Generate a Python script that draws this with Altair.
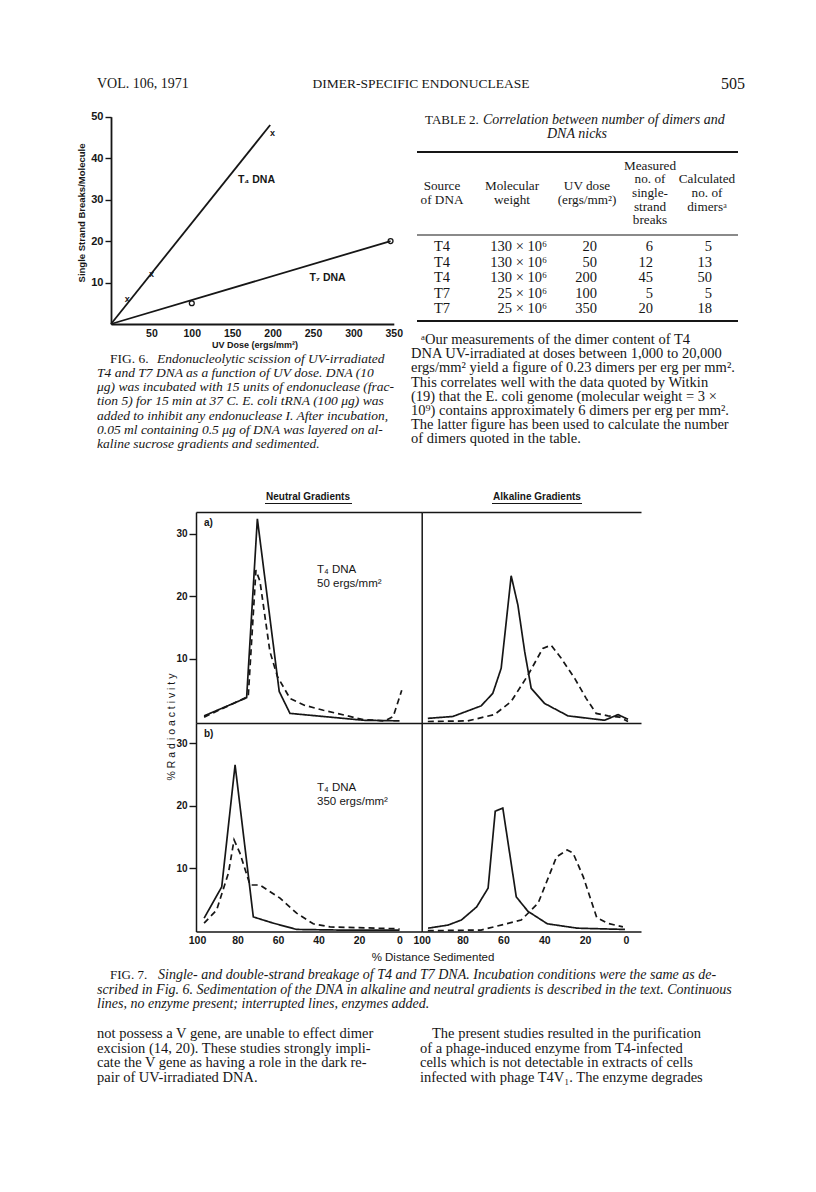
import altair as alt
import pandas as pd

# ---------------------------------------------------------------- page frame
W, H = 800, 1176          # drawing area (page is 816 wide, 8px margin)
M = 8
INK = "#161616"
SERIF = "Liberation Serif"
SANS = "Liberation Sans"


def X(p):
    return p - M


def Y(p):
    return p - M


# ---------------------------------------------------------------- texts
hdr_left = "VOL. 106, 1971"
hdr_mid = "DIMER-SPECIFIC ENDONUCLEASE"
hdr_page = "505"

cap6_lead = "FIG. 6."
cap6_first = "Endonucleolytic scission of UV-irradiated"
cap6_rest = [
    "T4 and T7 DNA as a function of UV dose. DNA (10",
    "μg) was incubated with 15 units of endonuclease (frac-",
    "tion 5) for 15 min at 37 C. E. coli tRNA (100 μg) was",
    "added to inhibit any endonuclease I. After incubation,",
    "0.05 ml containing 0.5 μg of DNA was layered on al-",
    "kaline sucrose gradients and sedimented.",
]

tbl_lead = "TABLE 2."
tbl_title1 = "Correlation between number of dimers and"
tbl_title2 = "DNA nicks"
tbl_head = [["Source", "of DNA"], ["Molecular", "weight"], ["UV dose", "(ergs/mm²)"],
            ["Measured", "no. of", "single-", "strand", "breaks"],
            ["Calculated", "no. of", "dimersᵃ"]]
tbl_source = ["T4", "T4", "T4", "T7", "T7"]
tbl_mw = ["130 × 10⁶", "130 × 10⁶", "130 × 10⁶", "25 × 10⁶", "25 × 10⁶"]
tbl_dose = [20, 50, 200, 100, 350]
tbl_breaks = [6, 12, 45, 5, 20]
tbl_dimers = [5, 13, 50, 5, 18]

foot_first = "ᵃOur measurements of the dimer content of T4"
foot_rest = [
    "DNA UV-irradiated at doses between 1,000 to 20,000",
    "ergs/mm² yield a figure of 0.23 dimers per erg per mm².",
    "This correlates well with the data quoted by Witkin",
    "(19) that the E. coli genome (molecular weight = 3 ×",
    "10⁹) contains approximately 6 dimers per erg per mm².",
    "The latter figure has been used to calculate the number",
    "of dimers quoted in the table.",
]

cap7_lead = "FIG. 7."
cap7_first = "Single- and double-strand breakage of T4 and T7 DNA. Incubation conditions were the same as de-"
cap7_rest = [
    "scribed in Fig. 6. Sedimentation of the DNA in alkaline and neutral gradients is described in the text. Continuous",
    "lines, no enzyme present; interrupted lines, enzymes added.",
]

body_left = [
    "not possess a V gene, are unable to effect dimer",
    "excision (14, 20). These studies strongly impli-",
    "cate the V gene as having a role in the dark re-",
    "pair of UV-irradiated DNA.",
]
body_right_first = "The present studies resulted in the purification"
body_right = [
    "of a phage-induced enzyme from T4-infected",
    "cells which is not detectable in extracts of cells",
    "infected with phage T4V₁. The enzyme degrades",
]

# ---------------------------------------------------------------- Fig. 6 data
f6_t4_line_dose = [0, 197]
f6_t4_line_breaks = [0, 48]
f6_t4_pts_dose = [20, 50, 200]
f6_t4_pts_breaks = [6, 12, 46]
f6_t7_line_dose = [0, 346]
f6_t7_line_breaks = [0, 20]
f6_t7_pts_dose = [100, 346]
f6_t7_pts_breaks = [5, 20]
f6_x_ticks = [50, 100, 150, 200, 250, 300, 350]
f6_y_ticks = [10, 20, 30, 40, 50]
f6_labels = ["T₄ DNA", "T₇ DNA"]
f6_label_dose = [180, 268]
f6_label_breaks = [34.7, 11]

# ---------------------------------------------------------------- Fig. 7 data
f7_x_ticks = [100, 80, 60, 40, 20, 0]
f7_y_ticks = [10, 20, 30]

neu_a_solid_pos = [96.5, 75.5, 70.2, 59.4, 54.1, 37.6, 17.9, 0]
neu_a_solid_val = [0.9, 3.8, 32.4, 4.8, 1.3, 0.8, 0.2, 0.1]
neu_a_dash_pos = [96.5, 74.7, 70.9, 68.9, 64.0, 60.3, 54.1, 47, 37.6, 27, 17.9, 7.2, 3.1, -1.1]
neu_a_dash_val = [0.7, 4.0, 24.2, 22.4, 11.2, 7.2, 3.7, 2.6, 1.8, 1.0, 0.3, 0.1, 0.8, 5.0]

alk_a_solid_pos = [97, 84.8, 70.9, 65.2, 61.1, 58.6, 56.2, 52.9, 49.6, 46.4, 39.9, 28.4, 10.5, 3.9, -1]
alk_a_solid_val = [0.5, 0.8, 2.5, 4.5, 8.5, 16, 23.3, 18.6, 11.2, 5.3, 2.9, 0.9, 0.2, 1.1, 0.35]
alk_a_dash_pos = [97, 77.5, 64.4, 56.2, 48, 40.7, 36.6, 31.7, 25.1, 19.5, 14.6, 8.8, 3.1, -1]
alk_a_dash_val = [0, 0.1, 1.1, 3.2, 7.4, 11.7, 12.2, 10.1, 6.9, 3.7, 1.3, 0.9, 0.7, 0]

neu_b_solid_pos = [96.5, 87.8, 81.2, 72.2, 62.3, 50.8, 30, 0]
neu_b_solid_val = [2.0, 7.0, 26.5, 2.2, 1.2, 0.2, 0.1, 0.1]
neu_b_dash_pos = [96.5, 90.3, 84.5, 81.7, 78.8, 73.8, 68.9, 59.0, 50.8, 42.6, 34.3, 0]
neu_b_dash_val = [1.2, 3.3, 9.2, 14.5, 12.4, 7.3, 7.3, 5.2, 2.8, 1.1, 0.6, 0.3]

alk_b_solid_pos = [96.9, 87.1, 80.6, 73.1, 67.5, 64.0, 60.3, 53.7, 48.0, 38.5, 23.8, 0.5]
alk_b_solid_val = [0.4, 0.9, 1.7, 3.8, 6.8, 19.1, 19.6, 5.4, 3.1, 1.1, 0.4, 0.2]
alk_b_dash_pos = [97, 70.9, 51.3, 43.0, 34.0, 28.8, 25.9, 20.9, 14.3, 9.1, 1.5]
alk_b_dash_val = [0, 0.1, 1.7, 4.4, 11.8, 12.9, 12.4, 8.6, 2.1, 1.2, 0.6]

# ---------------------------------------------------------------- helpers
one = pd.DataFrame({"k": [0]})


def label(s, x, y, size=13, font=SERIF, align="left", style="normal", weight="normal", angle=0):
    return alt.Chart(one).mark_text(
        text=s, align=align, baseline="middle", font=font, fontSize=size,
        fontStyle=style, fontWeight=weight, angle=angle, color=INK,
    ).encode(x=alt.value(X(x)), y=alt.value(Y(y)))


def block(lines, x, y0, dy, size, style="normal", font=SERIF, align="left", weight="normal"):
    df = pd.DataFrame({"line": [str(v) for v in lines], "n": list(range(len(lines)))})
    return alt.Chart(df).mark_text(
        align=align, baseline="middle", font=font, fontSize=size,
        fontStyle=style, fontWeight=weight, color=INK,
    ).encode(
        x=alt.value(X(x)),
        y=alt.Y("n:Q", scale=alt.Scale(domain=[0, 1], range=[Y(y0), Y(y0 + dy)]), axis=None),
        text="line:N",
    )


def hrule(x0, x1, y, w):
    return alt.Chart(one).mark_rule(color=INK, strokeWidth=w).encode(
        x=alt.value(X(x0)), x2=alt.value(X(x1)), y=alt.value(Y(y)))


def axis(orient, at, show_labels=False, values=None, tick=0, size=10, dw=1.6, pad=2):
    if orient == "bottom":
        off = Y(at) - H
    elif orient == "top":
        off = -Y(at)
    else:
        off = -X(at)
    kw = dict(orient=orient, offset=off, grid=False, title=None, domainColor=INK,
              domainWidth=dw, labels=show_labels, ticks=tick > 0)
    if tick > 0:
        kw.update(tickSize=tick, tickWidth=1.4, tickColor=INK)
    if values is not None:
        kw["values"] = values
    if show_labels:
        kw.update(labelFont=SANS, labelFontSize=size, labelFontWeight="bold", labelColor=INK,
                  labelPadding=pad, labelFlush=False, labelOverlap=False)
    return alt.Axis(**kw)


def lin(domain, rng):
    return alt.Scale(domain=domain, range=rng, nice=False, zero=False)


layers = []

# ---------------------------------------------------------------- header
layers += [
    label(hdr_left, 97, 84, 14),
    label(hdr_mid, 421, 84, 13.5, align="center"),
    label(hdr_page, 745, 84, 16, align="right"),
]

# ---------------------------------------------------------------- Fig. 6
f6x = lin([0, 350], [X(111), X(393.8)])
f6y = lin([0, 50], [Y(324), Y(116.7)])

f6_lines = pd.DataFrame({
    "dose": f6_t4_line_dose + f6_t7_line_dose,
    "breaks": f6_t4_line_breaks + f6_t7_line_breaks,
    "phage": ["T4"] * len(f6_t4_line_dose) + ["T7"] * len(f6_t7_line_dose),
})
layers.append(alt.Chart(f6_lines).mark_line(color=INK, strokeWidth=1.8).encode(
    x=alt.X("dose:Q", scale=f6x, axis=axis("bottom", 324, True, f6_x_ticks, tick=0, size=10.5, dw=1.8, pad=4)),
    y=alt.Y("breaks:Q", scale=f6y, axis=axis("left", 111, True, f6_y_ticks, tick=6, size=11, dw=1.8, pad=2)),
    detail="phage:N",
))
layers.append(alt.Chart(pd.DataFrame({"dose": f6_t4_pts_dose, "breaks": f6_t4_pts_breaks}))
              .mark_text(text="x", font=SANS, fontSize=9, fontWeight="bold", color=INK, baseline="middle")
              .encode(x=alt.X("dose:Q", scale=f6x, axis=None), y=alt.Y("breaks:Q", scale=f6y, axis=None)))
layers.append(alt.Chart(pd.DataFrame({"dose": f6_t7_pts_dose, "breaks": f6_t7_pts_breaks}))
              .mark_point(shape="circle", filled=False, size=24, strokeWidth=1.3, color=INK, opacity=1)
              .encode(x=alt.X("dose:Q", scale=f6x, axis=None), y=alt.Y("breaks:Q", scale=f6y, axis=None)))
layers.append(alt.Chart(pd.DataFrame({"lab": f6_labels, "dose": f6_label_dose, "breaks": f6_label_breaks}))
              .mark_text(font=SANS, fontSize=10.5, fontWeight="bold", color=INK, baseline="middle")
              .encode(x=alt.X("dose:Q", scale=f6x, axis=None), y=alt.Y("breaks:Q", scale=f6y, axis=None),
                      text="lab:N"))
layers += [
    label("Single Strand Breaks/Molecule", 82, 213, 9.5, font=SANS, align="center", weight="bold", angle=270),
    label("UV Dose (ergs/mm²)", 255, 345, 9, font=SANS, align="center", weight="bold"),
]

# Fig. 6 caption
layers += [
    label(cap6_lead, 110, 358.5, 13.5),
    label(cap6_first, 157, 358.5, 13.5, style="italic"),
    block(cap6_rest, 97, 372.8, 14.3, 13.5, style="italic"),
]

# ---------------------------------------------------------------- Table 2
layers += [
    label(tbl_lead, 425, 120, 13),
    label(tbl_title1, 483, 120, 14, style="italic"),
    label(tbl_title2, 577, 134, 14, style="italic", align="center"),
    hrule(417, 738, 152, 2),
    hrule(417, 738, 235, 1.2),
    hrule(417, 738, 321, 2),
]
head_cx = [442, 512, 587, 650, 707]
for lines, cx in zip(tbl_head, head_cx):
    n = len(lines)
    layers.append(block(lines, cx, 193 - (n - 1) / 2 * 13.6, 13.6, 13.2, align="center"))
layers += [
    block(tbl_source, 442, 247, 15.5, 14.5, align="center"),
    block(tbl_mw, 547, 247, 15.5, 14.5, align="right"),
    block(tbl_dose, 597, 247, 15.5, 14.5, align="right"),
    block(tbl_breaks, 653, 247, 15.5, 14.5, align="right"),
    block(tbl_dimers, 712, 247, 15.5, 14.5, align="right"),
]
layers += [
    label(foot_first, 421, 340, 14.5),
    block(foot_rest, 411, 354.2, 14.2, 14.5),
]

# ---------------------------------------------------------------- Fig. 7
LX = lin([100.5, -10.96], [X(196), X(421.7)])
RX = lin([100, -7.35], [X(421.7), X(641)])
AY = lin([-0.24, 33.5], [Y(723), Y(512)])
BY = lin([-0.13, 33.2], [Y(931.5), Y(723)])

DASH = alt.StrokeDash("enzyme:N", scale=alt.Scale(domain=["none", "added"], range=[[1, 0], [6, 4]]),
                      legend=None)


def panel_df(sp, sv, dp, dv):
    return pd.DataFrame({"pos": sp + dp, "val": sv + dv,
                         "enzyme": ["none"] * len(sp) + ["added"] * len(dp)})


def panel(df, xs, ys, left_px, bottom_px, top_px, xlabels, ylabels):
    out = []
    y_ax = axis("left", left_px, ylabels, f7_y_ticks if ylabels else None, tick=7 if ylabels else 0,
                size=10, dw=1.5, pad=2)
    x_ax = axis("bottom", bottom_px, xlabels, f7_x_ticks if xlabels else None, tick=0,
                size=10.5, dw=1.5, pad=4)
    out.append(alt.Chart(df).mark_line(color=INK, strokeWidth=1.7).encode(
        x=alt.X("pos:Q", scale=xs, axis=x_ax),
        y=alt.Y("val:Q", scale=ys, axis=y_ax),
        strokeDash=DASH,
    ))
    if top_px is not None:
        out.append(alt.Chart(df).mark_line(opacity=0).encode(
            x=alt.X("pos:Q", scale=xs, axis=axis("top", top_px, dw=1.5)),
            y=alt.Y("val:Q", scale=ys, axis=None),
        ))
    return out


layers += panel(panel_df(neu_a_solid_pos, neu_a_solid_val, neu_a_dash_pos, neu_a_dash_val),
                LX, AY, 196, 723, 512, False, True)
layers += panel(panel_df(alk_a_solid_pos, alk_a_solid_val, alk_a_dash_pos, alk_a_dash_val),
                RX, AY, 421.7, 723, 512, False, False)
layers += panel(panel_df(neu_b_solid_pos, neu_b_solid_val, neu_b_dash_pos, neu_b_dash_val),
                LX, BY, 196, 931.5, None, True, True)
layers += panel(panel_df(alk_b_solid_pos, alk_b_solid_val, alk_b_dash_pos, alk_b_dash_val),
                RX, BY, 421.7, 931.5, None, True, False)

layers += [
    label("Neutral Gradients", 308, 497, 10, font=SANS, align="center", weight="bold"),
    hrule(265, 352, 503.5, 1.2),
    label("Alkaline Gradients", 537, 497, 10, font=SANS, align="center", weight="bold"),
    hrule(492, 582, 503.5, 1.2),
    label("a)", 204, 523, 10, font=SANS, weight="bold"),
    label("b)", 204, 734, 10, font=SANS, weight="bold"),
    label("T₄ DNA", 317, 570, 11.5, font=SANS),
    label("50 ergs/mm²", 317, 584, 11.5, font=SANS),
    label("T₄ DNA", 317, 788, 11.5, font=SANS),
    label("350 ergs/mm²", 317, 802, 11.5, font=SANS),
    label("%  R a d i o a c t i v i t y", 172, 727, 10.5, font=SANS, align="center", angle=270),
    label("%  Distance  Sedimented", 433, 958, 11.5, font=SANS, align="center"),
]

# Fig. 7 caption
layers += [
    label(cap7_lead, 110, 975, 13),
    label(cap7_first, 158, 975, 14, style="italic"),
    block(cap7_rest, 97, 989.5, 14.5, 14, style="italic"),
]

# ---------------------------------------------------------------- body text
layers += [
    block(body_left, 97, 1034, 14.6, 14.5),
    label(body_right_first, 432, 1034, 14.5),
    block(body_right, 420, 1048.6, 14.6, 14.5),
]

chart = (
    alt.layer(*layers)
    .resolve_scale(x="independent", y="independent")
    .properties(width=W, height=H, padding=0, background="white",
                autosize=alt.AutoSizeParams(type="none"))
    .configure_view(stroke=None)
)

chart.save("out.html", embed_options={"renderer": "svg", "actions": False})
